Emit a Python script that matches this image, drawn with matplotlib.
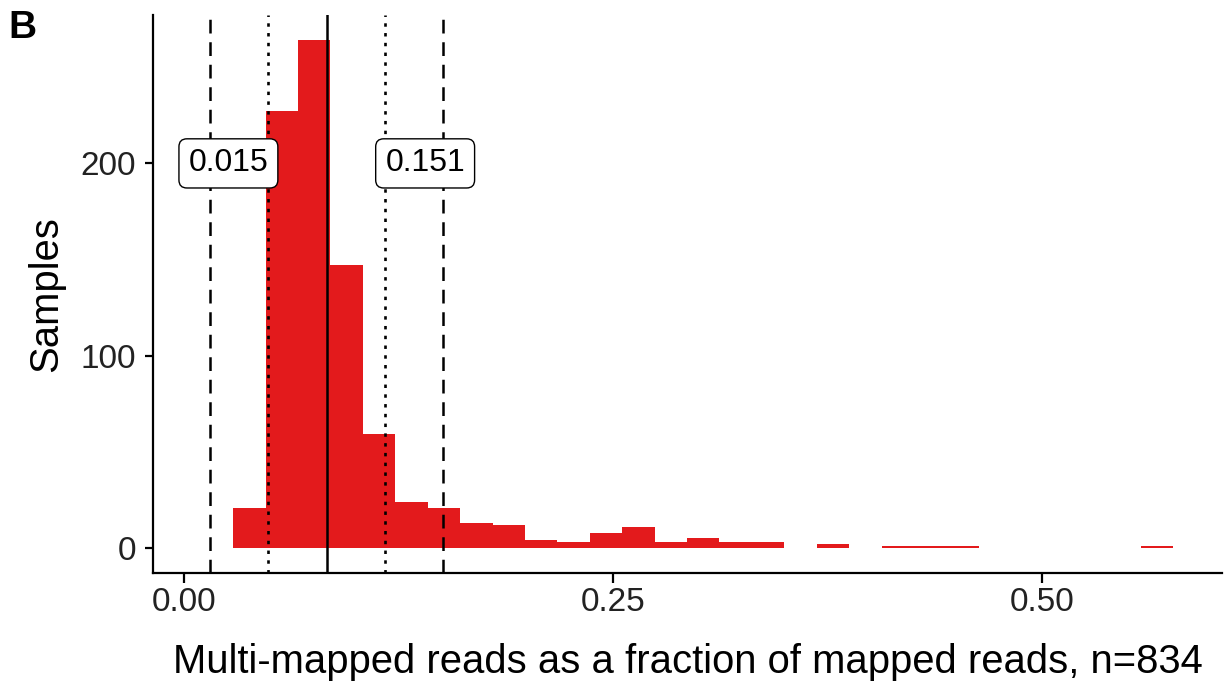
import matplotlib.pyplot as plt
import numpy as np

plt.rcParams['font.family'] = ['Liberation Sans', 'DejaVu Sans']

# histogram bins (29 bins of equal width)
bin_start = 0.0285
bin_width = 0.0189
counts = [21, 227, 264, 147, 59, 24, 21, 13, 12, 4, 3, 8, 11, 3, 5,
          3, 3, 0, 2, 0, 1, 1, 1, 0, 0, 0, 0, 0, 1]

# reference lines
dashed_x = [0.015, 0.151]
dotted_x = [0.0486, 0.117]
solid_x = 0.083

# box labels
label_text = ["0.015", "0.151"]
label_x = [0.0257, 0.1404]
label_y = [200, 200]

xticks = [0.0, 0.25, 0.5]
xtick_labels = ["0.00", "0.25", "0.50"]
yticks = [0, 100, 200]

# ----------------------------------
# figure
# ----------------------------------
fig = plt.figure(figsize=(12.25, 6.87), dpi=100)
ax = fig.add_axes([0.1247, 0.1655, 0.8729, 0.8127])

lefts = bin_start + bin_width * np.arange(len(counts))
ax.bar(lefts, counts, width=bin_width, align='edge', color='#E31A1C',
       linewidth=0, zorder=2)

for x in dashed_x:
    ax.axvline(x, color='black', lw=1.8, linestyle=(0, (5.5, 3.5)), zorder=3)
for x in dotted_x:
    ax.axvline(x, color='black', lw=1.9, linestyle=(0, (1.3, 2.4)), zorder=3)
ax.axvline(solid_x, color='black', lw=1.8, zorder=3)

for t, x, y in zip(label_text, label_x, label_y):
    ax.text(x, y, t, fontsize=23, ha='center', va='center', zorder=4,
            bbox=dict(boxstyle='round,pad=0.3,rounding_size=0.25',
                      facecolor='white', edgecolor='black', lw=1.0))

ax.set_xlim(-0.0184, 0.605)
ax.set_ylim(-13.2, 277.2)

ax.set_xticks(xticks)
ax.set_xticklabels(xtick_labels)
ax.set_yticks(yticks)

for side in ['top', 'right']:
    ax.spines[side].set_visible(False)
for side in ['left', 'bottom']:
    ax.spines[side].set_linewidth(1.6)

ax.tick_params(axis='both', labelsize=24, width=1.6, color='black',
               labelcolor='#222222')
ax.tick_params(axis='x', length=7, pad=3)
ax.tick_params(axis='y', length=6, pad=6)

ax.set_xlabel("Multi-mapped reads as a fraction of mapped reads, n=834",
              fontsize=28.8)
ax.set_ylabel("Samples", fontsize=28.8)
ax.xaxis.set_label_coords(0.5, -0.125)
ax.yaxis.set_label_coords(-0.082, 0.5)

fig.text(0.007, 0.985, "B", fontsize=28, fontweight='bold', ha='left', va='top')

plt.savefig("out.png", dpi=100)
